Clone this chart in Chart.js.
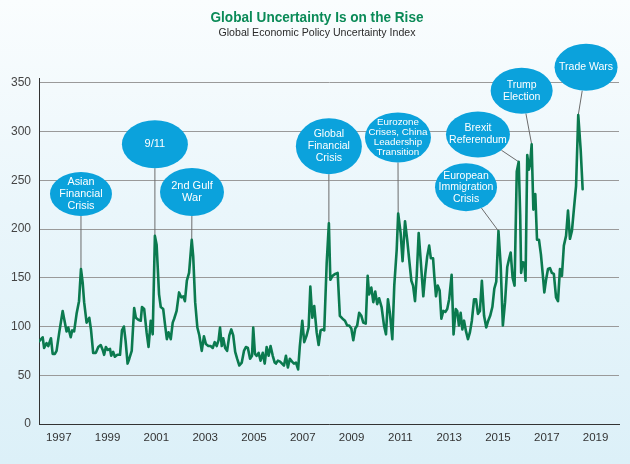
<!DOCTYPE html>
<html><head><meta charset="utf-8">
<script src="https://cdn.jsdelivr.net/npm/chart.js@4/dist/chart.umd.min.js"></script>
<style>
html,body{margin:0;padding:0;}
body{width:630px;height:464px;overflow:hidden;background:linear-gradient(to bottom,#fafdfe 0%,#eaf6fb 45%,#dcf0f8 100%);}
canvas{display:block;}
</style></head><body>
<canvas id="c" width="630" height="464"></canvas>
<script>
// ---- data (decimal year, index value) ----
const dates = [
1997.00,1997.14,1997.20,1997.30,1997.37,1997.48,1997.55,1997.64,1997.71,1997.82,1997.96,
1998.02,1998.12,1998.19,1998.29,1998.35,1998.43,1998.53,1998.63,1998.71,1998.78,1998.84,1998.94,
1999.05,1999.12,1999.21,1999.32,1999.42,1999.52,1999.60,1999.66,1999.73,1999.80,1999.90,1999.95,
2000.03,2000.10,2000.20,2000.31,2000.39,2000.47,2000.54,2000.62,2000.69,2000.79,2000.89,2000.96,
2001.06,2001.16,2001.21,2001.30,2001.40,2001.48,2001.57,2001.65,2001.74,2001.81,2001.91,2001.98,
2002.08,2002.15,2002.23,2002.30,2002.39,2002.47,2002.53,2002.63,2002.73,2002.82,2002.90,2002.97,
2003.05,2003.14,2003.25,2003.31,2003.39,2003.48,2003.56,2003.66,2003.75,2003.83,2003.93,
2004.02,2004.11,2004.19,2004.27,2004.35,2004.41,2004.48,2004.54,2004.62,2004.70,2004.79,2004.87,2004.95,
2005.03,2005.11,2005.20,2005.30,2005.39,2005.47,2005.55,2005.64,2005.72,2005.77,2005.84,2005.91,2005.99,
2006.07,2006.16,2006.24,2006.32,2006.40,2006.48,2006.57,2006.65,2006.70,2006.78,2006.87,2006.95,
2007.03,2007.11,2007.19,2007.27,2007.36,2007.44,2007.52,2007.61,2007.68,2007.78,2007.86,2007.96,
2008.04,2008.11,2008.19,2008.27,2008.37,2008.45,2008.53,2008.61,2008.68,2008.78,2008.87,2008.93,
2009.02,2009.13,2009.23,2009.32,2009.43,2009.53,2009.62,2009.70,2009.79,2009.87,2009.95,
2010.03,2010.11,2010.20,2010.28,2010.38,2010.46,2010.52,2010.61,2010.69,2010.77,2010.85,2010.93,
2011.03,2011.13,2011.21,2011.29,2011.37,2011.47,2011.55,2011.65,2011.71,2011.81,2011.89,2011.99,
2012.08,2012.16,2012.25,2012.32,2012.40,2012.47,2012.55,2012.63,2012.74,2012.82,2012.90,2012.98,
2013.05,2013.14,2013.19,2013.26,2013.33,2013.41,2013.48,2013.56,2013.64,2013.72,2013.80,2013.90,2013.98,
2014.07,2014.13,2014.20,2014.27,2014.34,2014.41,2014.49,2014.57,2014.65,2014.73,2014.82,2014.90,2014.98,
2015.06,2015.14,2015.23,2015.32,2015.40,2015.48,2015.57,2015.65,2015.73,2015.82,2015.91,
2016.00,2016.09,2016.18,2016.26,2016.32,2016.40,2016.48,2016.57,2016.65,2016.71,2016.75,2016.81,2016.88,2016.93,
2017.00,2017.07,2017.12,2017.18,2017.25,2017.33,2017.40,2017.48,2017.56,2017.63,2017.70,2017.77,2017.85,2017.93,
2018.01,2018.09,2018.18,2018.26,2018.34,2018.42,2018.50,2018.59,2018.67,2018.75,2018.83,2018.91,
2019.00,2019.09,2019.19,2019.27
];
const gepu = [
85,89,78,83,80,88,72,72,75,94,116,
108,95,99,89,96,95,113,126,159,145,125,104,
109,97,73,73,79,81,76,71,79,76,77,70,
74,69,71,71,96,100,85,62,67,75,119,109,
107,106,120,118,94,79,106,92,193,184,133,120,
118,103,87,94,87,104,108,116,135,130,131,126,
147,155,189,172,125,99,91,75,90,82,80,
80,78,84,80,86,99,80,88,78,75,91,97,91,
74,67,60,63,75,79,78,67,70,99,72,70,73,
65,73,62,79,70,80,70,63,62,65,64,62,
60,70,58,67,64,62,63,56,80,106,84,91,
99,141,109,121,94,81,96,97,96,165,206,148,
152,154,155,111,108,106,101,101,98,86,98,
101,114,111,104,103,152,133,140,125,136,123,129,
120,101,92,128,114,87,142,179,216,196,167,208,
189,169,147,142,126,152,196,169,131,154,172,183,
170,170,152,131,142,137,108,116,115,118,128,153,92,
118,116,101,114,97,106,95,87,94,106,128,128,113,
116,147,111,99,106,111,120,139,146,198,163,
101,125,161,170,176,150,142,259,269,215,155,166,165,147,
276,261,268,287,220,236,189,189,174,155,135,148,159,160,
155,154,130,126,159,152,183,193,219,190,198,220,
244,317,281,241
];
const yearLabels = [1997,1999,2001,2003,2005,2007,2009,2011,2013,2015,2017,2019];
const yValueTicks = [0,50,100,150,200,250,300,350];
const titleText = 'Global Uncertainty Is on the Rise';
const subtitleText = 'Global Economic Policy Uncertainty Index';
const eventLabels = [
  ['Asian','Financial','Crisis'],
  ['9/11'],
  ['2nd Gulf','War'],
  ['Global','Financial','Crisis'],
  ['Eurozone','Crises, China','Leadership','Transition'],
  ['European','Immigration','Crisis'],
  ['Brexit','Referendum'],
  ['Trump','Election'],
  ['Trade Wars']
];
const eventDates = [1998.71,2001.74,2003.25,2008.87,2011.71,2015.82,2016.65,2017.18,2019.09];

// ---- layout of the callout bubbles (centre in axis units, radii in px) ----
const bubbleLayout = [
  {x:1998.71,y:236,rx:31,ry:22,fs:10.8,lh:11.7},
  {x:2001.74,y:287,rx:33,ry:24,fs:11,lh:12},
  {x:2003.26,y:238,rx:32,ry:24,fs:11,lh:12.5},
  {x:2008.87,y:285,rx:33,ry:28,fs:10.5,lh:12},
  {x:2011.70,y:294,rx:33,ry:25,fs:9.8,lh:10.2},
  {x:2014.49,y:243,rx:31,ry:24,fs:10.5,lh:11.5},
  {x:2014.98,y:297,rx:32,ry:23,fs:10.5,lh:12},
  {x:2016.77,y:342,rx:31,ry:23,fs:10.5,lh:12},
  {x:2019.41,y:366,rx:31.5,ry:23.5,fs:10.5,lh:12}
];

function drawFit(c,text,x,y,font,color,w){
  c.save();c.font=font;c.fillStyle=color;c.textAlign='center';c.textBaseline='alphabetic';
  const m=c.measureText(text).width;c.translate(x,y);c.scale(w/m,1);c.fillText(text,0,0);c.restore();
}
const titlePlugin={id:'titles',afterDraw(chart){
  const c=chart.ctx;
  drawFit(c,titleText,317,22,'bold 15px "Liberation Sans", Arial, sans-serif','#0a8a57',213);
  drawFit(c,subtitleText,317,36,'11px "Liberation Sans", Arial, sans-serif','#2b2b2b',197);
}};
const calloutPlugin={id:'callouts',beforeDatasetsDraw(chart){
  const c=chart.ctx,xs=chart.scales.x,ys=chart.scales.y;
  c.save();
  eventDates.forEach((d,i)=>{
    let best=0;dates.forEach((t,j)=>{if(Math.abs(t-d)<Math.abs(dates[best]-d))best=j;});
    const px=xs.getPixelForValue(dates[best]),py=ys.getPixelForValue(gepu[best]);
    const b=bubbleLayout[i],cx=xs.getPixelForValue(b.x),cy=ys.getPixelForValue(b.y);
    const dx=px-cx,dy=py-cy,s=1/Math.sqrt((dx/b.rx)**2+(dy/b.ry)**2);
    c.strokeStyle='#6b6b6b';c.lineWidth=1;
    c.beginPath();c.moveTo(cx+dx*s,cy+dy*s);c.lineTo(px,py);c.stroke();
    c.fillStyle='#0ba2dc';
    c.beginPath();c.ellipse(cx,cy,b.rx,b.ry,0,0,Math.PI*2);c.fill();
    c.fillStyle='#ffffff';c.font=b.fs+'px "Liberation Sans", Arial, sans-serif';
    c.textAlign='center';c.textBaseline='middle';
    const L=eventLabels[i];
    L.forEach((t,k)=>{c.fillText(t,cx,cy+(k-(L.length-1)/2)*b.lh);});
  });
  c.restore();
}};

new Chart(document.getElementById('c'),{
  type:'line',
  data:{datasets:[{data:dates.map((d,i)=>({x:d,y:gepu[i]})),borderColor:'#0b7a4f',borderWidth:2.6,
    pointRadius:0,tension:0,fill:false,borderJoinStyle:'round',borderCapStyle:'round'}]},
  options:{
    responsive:false,animation:false,devicePixelRatio:1,
    layout:{padding:{top:78,right:11,left:0,bottom:0}},
    plugins:{legend:{display:false},tooltip:{enabled:false},title:{display:false}},
    scales:{
      x:{type:'linear',min:1996.99,max:2020.76,
        afterBuildTicks:s=>{s.ticks=yearLabels.map(y=>({value:y+0.8}));},
        ticks:{callback:v=>String(Math.floor(v)),autoSkip:false,maxRotation:0,color:'#333',padding:7,
          font:{family:'"Liberation Sans", Arial, sans-serif',size:11.5}},
        grid:{display:true,color:'rgba(0,0,0,0)',drawTicks:false},
        border:{display:true,color:'#333',width:1},
        afterFit:s=>{s.height=40;}
      },
      y:{min:0,max:355,
        afterBuildTicks:s=>{s.ticks=yValueTicks.map(v=>({value:v}));},
        ticks:{color:'#444',padding:8,font:{family:'"Liberation Sans", Arial, sans-serif',size:12}},
        grid:{color:'#9a9a9a',lineWidth:1,drawTicks:false},
        border:{display:true,color:'#333',width:1},
        afterFit:s=>{s.width=39;}
      }
    }
  },
  plugins:[calloutPlugin,titlePlugin]
});
</script>
</body></html>
